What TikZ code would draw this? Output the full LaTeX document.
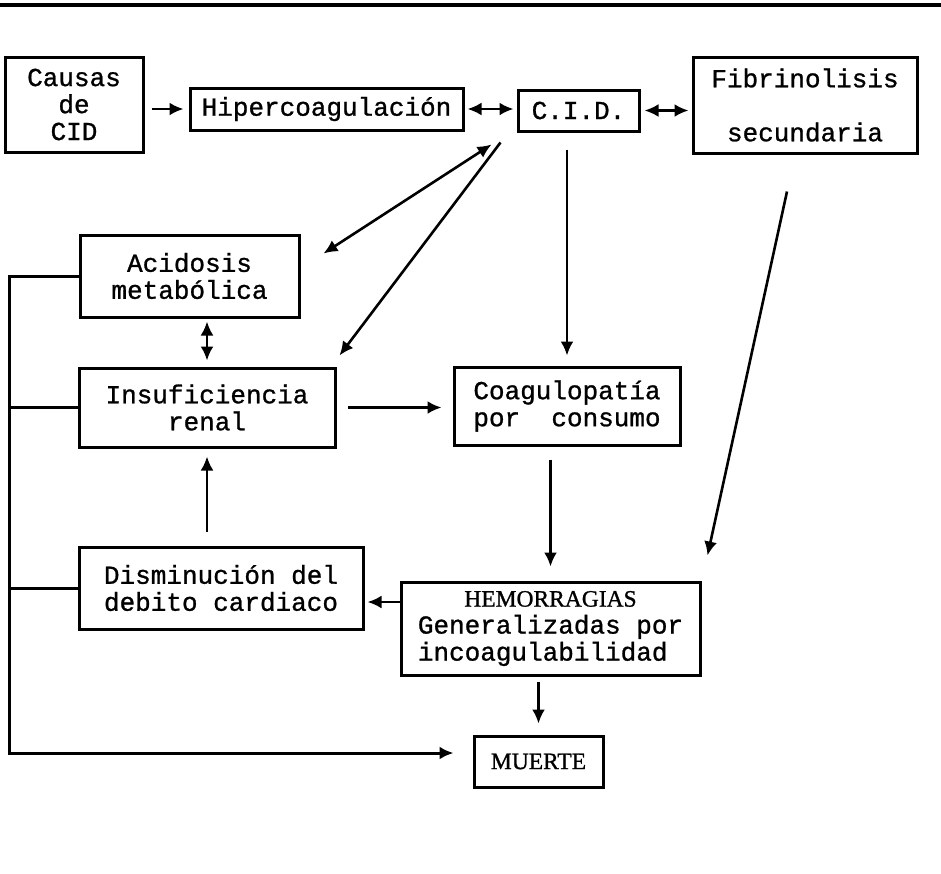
\documentclass[tikz,border=0pt]{standalone}
\usepackage{fontspec}
\setmainfont[FakeBold=1]{Liberation Mono}
\newfontfamily\capsfont[FakeBold=1]{Liberation Serif}
\usetikzlibrary{arrows.meta}

\begin{document}
\begin{tikzpicture}[x=1pt, y=-1pt,
    box/.style={draw, line width=3pt, inner sep=0pt, align=center,
      font=\fontsize{26}{27}\selectfont},
    link/.style={line width=2.6pt, -{Latex[length=14pt,width=13pt]}},
    both/.style={line width=2.6pt, {Latex[length=14pt,width=13pt]}-{Latex[length=14pt,width=13pt]}}]
  \useasboundingbox (0,0) rectangle (941,873);
  % page rule
  \draw[line width=3.5pt] (0,5) -- (941,5);

  % boxes
  \node[box, minimum width=138pt, minimum height=95pt] (causas) at (74,104.5) {Causas\\de\\CID};
  \node[box, minimum width=273pt, minimum height=42pt] (hiper) at (326.5,109) {Hipercoagulación};
  \node[box, minimum width=121pt, minimum height=41pt] (cid) at (578.5,110.5) {C.I.D.};
  \node[box, minimum width=224pt, minimum height=96pt] (fibrino) at (805,105) {Fibrinolisis\\[27pt]secundaria};
  \node[box, minimum width=219pt, minimum height=82pt] (acidosis) at (189.5,276) {Acidosis\\metabólica};
  \node[box, minimum width=256pt, minimum height=79pt] (insuf) at (207,407.5) {Insuficiencia\\renal};
  \node[box, align=left, minimum width=226pt, minimum height=78pt] (coag) at (567,406) {Coagulopatía\\por~~consumo};
  \node[box, align=left, minimum width=284pt, minimum height=82pt] (dismin) at (221,588) {Disminución del\\debito cardiaco};
  \node[box, minimum width=299pt, minimum height=93pt] (hemo) at (550.5,628.5)
    {{\capsfont\fontsize{23.5}{27}\selectfont HEMORRAGIAS}\\Generalizadas por\\incoagulabilidad\hphantom{r}};
  \node[box, minimum width=129pt, minimum height=51pt, font=\capsfont\fontsize{23.5}{27}\selectfont] (muerte) at (538.5,761.5) {MUERTE};

  % connectors
  \draw[link, shorten <=7pt, shorten >=5pt] (causas.east |- hiper.west) -- (hiper.west);
  \draw[both, shorten <=3pt, shorten >=3pt] (hiper.east) -- (hiper.east -| cid.west);
  \draw[both, shorten <=4pt, shorten >=3pt] (cid.east) -- (cid.east -| fibrino.west);
  \draw[both] ([shift={(-25,12)}]cid.south west) -- ([shift={(23,20)}]acidosis.north east);
  \draw[link] ([shift={(-16,10)}]cid.south west) -- ([shift={(3,-11)}]insuf.north east);
  \draw[link, shorten <=17pt, shorten >=10pt] (cid.south -| coag.north) -- (coag.north);
  \draw[link] ([shift={(-18,37)}]fibrino.south) -- ([shift={(6,-25)}]hemo.north east);
  \draw[both, shorten <=3pt, shorten >=6pt] (acidosis.south -| insuf.north) -- (insuf.north);
  \draw[link, shorten <=11pt, shorten >=11pt] (insuf.east) -- (insuf.east -| coag.west);
  \draw[link, shorten <=13pt, shorten >=14pt] (coag.south -| hemo.north) -- (hemo.north);
  \draw[link, shorten <=14pt, shorten >=8pt] (dismin.north -| insuf.south) -- (insuf.south);
  \draw[link, shorten >=3pt] ([shift={(0,-26.5)}]hemo.west) -- ([shift={(0,14)}]dismin.east);
  \draw[link, shorten <=5pt, shorten >=11pt] (hemo.south -| muerte.north) -- (muerte.north);

  % left bus to MUERTE
  \coordinate (busTop) at (9,276);
  \coordinate (busEnd) at (9,753);
  \draw[link, line width=3pt] (acidosis.west) -- (busTop) -- (busEnd) -- ([shift={(-19,-8.5)}]muerte.west);
  \draw[line width=3pt] (insuf.west) -- (insuf.west -| busTop);
  \draw[line width=3pt] (dismin.west) -- (dismin.west -| busTop);
\end{tikzpicture}
\end{document}
